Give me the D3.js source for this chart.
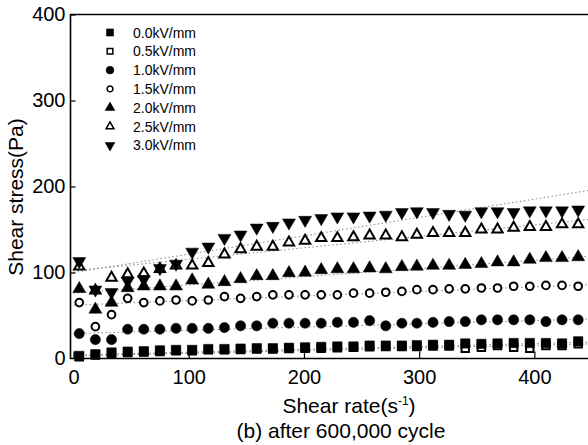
<!DOCTYPE html>
<html>
<head>
<meta charset="utf-8">
<script src="https://cdn.jsdelivr.net/npm/d3@7"></script>
<style>
  body { margin: 0; background: #fff; }
  svg { display: block; font-family: "Liberation Sans", Arial, sans-serif; }
</style>
</head>
<body>
<svg id="chart"></svg>
<script>
// shear rate (1/s) of each measured point
const shearRate = [5, 19, 33, 47, 61, 75, 89, 103, 117, 131, 145, 159, 173, 187, 201, 215,
                   229, 243, 257, 271, 285, 298, 312, 326, 340, 354, 368, 382, 396, 410, 424, 438];

// shear stress (Pa), one array per field strength
const stress00 = [3, 5, 7, 8, 8.5, 9.5, 10, 10, 11, 11, 11.5, 12, 12, 12.5, 13, 13.5,
                  14, 14, 15, 15, 15, 15.5, 16, 16, 17.5, 17, 17.5, 18, 18, 18, 17.5, 20];
const stress05 = [2, 4, 6, 7, 7.5, 8, 9, 9, 10, 10, 10.5, 11, 11, 11.5, 12, 12,
                  12.5, 13, 13.5, 14, 14, 14, 14.5, 14.5, 12, 13, 15, 13, 12, 15, 15, 17];
const stress10 = [29, 22, 22, 34, 34, 34, 35, 35, 35, 36, 38, 38, 41, 41, 41, 41,
                  42, 42, 44, 38, 41, 41, 42, 43, 43, 45, 45, 45, 45, 43, 45, 45];
const stress15 = [65, 37, 51, 70, 65, 67, 68, 67, 68, 72, 70, 72, 74, 74, 74, 74,
                  74, 76, 76, 77, 78, 80, 80, 81, 81, 82, 82, 84, 84, 85, 85, 84];
const stress20 = [81, 57, 65, 82, 84, 84, 84, 91, 86, 89, 92.5, 96, 96, 99.5, 100, 103,
                  104, 104, 105, 104, 106.5, 107, 108, 108, 109, 110, 112, 112, 115, 117, 117, 118];
const stress25 = [107, 79, 94, 98, 99, 104, 108, 108, 111, 121, 127, 130, 130, 135, 137, 140,
                  140, 141, 143, 143, 141, 144, 146, 146, 146, 150, 150, 152, 153, 153, 156, 156];
const stress30 = [113, 80, 77, 90, 92, 105, 110, 124, 130, 140, 144, 152, 154, 158, 161, 163,
                  165, 165, 166, 167, 170, 171, 170, 168, 167, 171, 171, 170, 172, 172, 172, 173];

const fieldLabels = ["0.0kV/mm", "0.5kV/mm", "1.0kV/mm", "1.5kV/mm", "2.0kV/mm", "2.5kV/mm", "3.0kV/mm"];

// fitted lines: stress at shear rate 0 and at 450
const fitStart = [4, 3, 29, 62, 76, 102, 100];
const fitEnd   = [19, 17, 46, 86, 119, 162, 196];

const xTicks = [0, 100, 200, 300, 400];
const yTicks = [0, 100, 200, 300, 400];

const width = 588, height = 445;
const plotLeft = 70.5, plotTop = 14.5, plotBottom = 358.5;

const svg = d3.select("#chart").attr("width", width).attr("height", height);

const xScale = d3.scaleLinear().domain([-2.6, 450]).range([plotLeft, 592]);
const yScale = d3.scaleLinear().domain([0, 400]).range([plotBottom, plotTop]);

const allStress = [stress00, stress05, stress10, stress15, stress20, stress25, stress30];

// marker look for each field (same order as fieldLabels)
const markers = [
  {type: d3.symbolSquare,   filled: true,  size: 88, rot: 0},
  {type: d3.symbolSquare,   filled: false, size: 55, rot: 0},
  {type: d3.symbolCircle,   filled: true,  size: 82, rot: 0},
  {type: d3.symbolCircle,   filled: false, size: 46, rot: 0},
  {type: d3.symbolTriangle, filled: true,  size: 72, rot: 0},
  {type: d3.symbolTriangle, filled: false, size: 46, rot: 0},
  {type: d3.symbolTriangle, filled: true,  size: 72, rot: 180}
];

// fit lines (dotted, light)
const fitGroup = svg.append("g");
fitStart.forEach((s, i) => {
  fitGroup.append("line")
    .attr("x1", xScale(0)).attr("y1", yScale(s))
    .attr("x2", xScale(450)).attr("y2", yScale(fitEnd[i]))
    .attr("stroke", "#777")
    .attr("stroke-width", 0.9)
    .attr("stroke-dasharray", "1.5,2.5");
});

// axes
const xAxis = d3.axisBottom(xScale).tickValues(xTicks).tickSizeInner(-7).tickSizeOuter(0).tickPadding(11);
const yAxis = d3.axisLeft(yScale).tickValues(yTicks).tickSizeInner(-5).tickSizeOuter(0).tickPadding(5);

const gx = svg.append("g").attr("transform", `translate(0,${plotBottom})`).call(xAxis);
const gy = svg.append("g").attr("transform", `translate(${plotLeft},0)`).call(yAxis);
[gx, gy].forEach(g => {
  g.select(".domain").remove();
  g.selectAll("line").attr("stroke", "#000").attr("stroke-width", 1.2);
  g.selectAll("text").attr("fill", "#000").style("font-size", "20px");
});
gy.selectAll(".tick").filter(d => d === 0).select("line").remove();

// frame: left, bottom, top
svg.append("path")
  .attr("d", `M${width + 5},${plotTop}H${plotLeft}V${plotBottom}H${width + 5}`)
  .attr("fill", "none")
  .attr("stroke", "#000")
  .attr("stroke-width", 1.6);

// points, drawn so filled squares sit over the open ones
const drawOrder = [1, 0, 2, 3, 4, 5, 6];
drawOrder.forEach(i => {
  const m = markers[i];
  const sym = d3.symbol().type(m.type).size(m.size);
  svg.append("g").selectAll("path")
    .data(shearRate.map((r, k) => ({rate: r, stress: allStress[i][k]})))
    .enter().append("path")
    .attr("d", sym)
    .attr("transform", d => `translate(${xScale(d.rate)},${yScale(d.stress)}) rotate(${m.rot})`)
    .attr("fill", m.filled ? "#000" : "#fff")
    .attr("stroke", "#000")
    .attr("stroke-width", m.filled ? 0.5 : 2);
});

// legend
const legend = svg.append("g");
fieldLabels.forEach((label, i) => {
  const m = markers[i];
  const ly = 32.5 + i * 18.8;
  legend.append("path")
    .attr("d", d3.symbol().type(m.type).size(m.size * 0.58))
    .attr("transform", `translate(110,${ly}) rotate(${m.rot})`)
    .attr("fill", m.filled ? "#000" : "#fff")
    .attr("stroke", "#000")
    .attr("stroke-width", m.filled ? 0.5 : 1.5);
  legend.append("text")
    .attr("x", 133).attr("y", ly)
    .attr("dy", "0.36em")
    .style("font-size", "14px")
    .text(label);
});

// axis titles
svg.append("text")
  .attr("transform", "translate(23,197) rotate(-90)")
  .attr("text-anchor", "middle")
  .style("font-size", "21px")
  .text("Shear stress(Pa)");

const xTitle = svg.append("text")
  .attr("x", 349).attr("y", 413)
  .attr("text-anchor", "middle")
  .style("font-size", "21px");
xTitle.append("tspan").text("Shear rate(s");
xTitle.append("tspan").attr("dy", "-8").style("font-size", "12px").text("-1");
xTitle.append("tspan").attr("dy", "8").text(")");

svg.append("text")
  .attr("x", 341).attr("y", 438)
  .attr("text-anchor", "middle")
  .style("font-size", "21px")
  .text("(b) after 600,000 cycle");
</script>
</body>
</html>
